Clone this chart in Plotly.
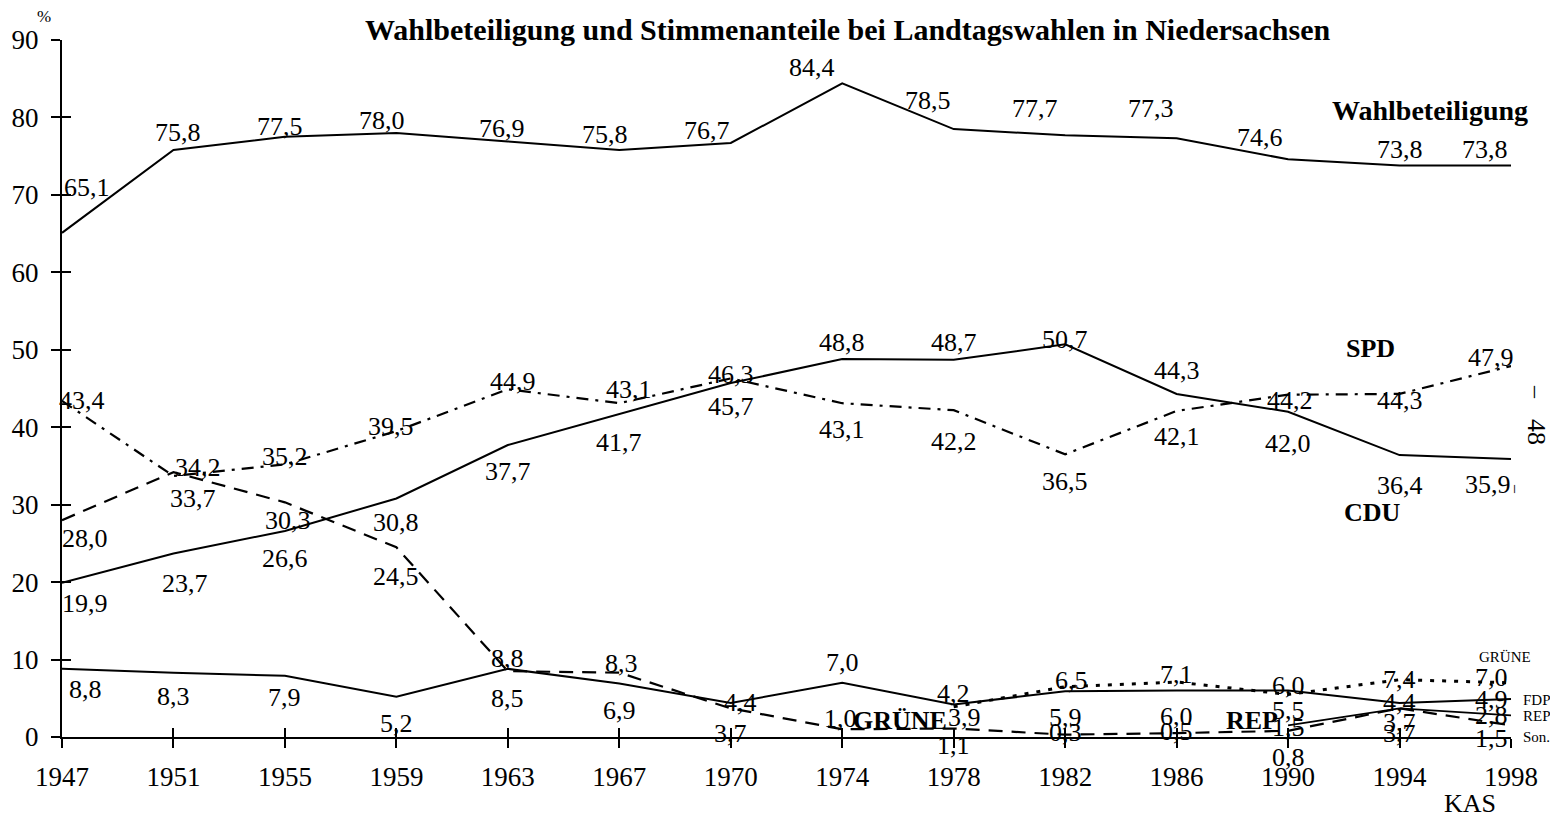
import plotly.graph_objects as go

years = ["1947", "1951", "1955", "1959", "1963", "1967", "1970", "1974",
         "1978", "1982", "1986", "1990", "1994", "1998"]

wahlbeteiligung = [65.1, 75.8, 77.5, 78.0, 76.9, 75.8, 76.7, 84.4, 78.5, 77.7, 77.3, 74.6, 73.8, 73.8]
cdu = [19.9, 23.7, 26.6, 30.8, 37.7, 41.7, 45.7, 48.8, 48.7, 50.7, 44.3, 42.0, 36.4, 35.9]
spd = [43.4, 33.7, 35.2, 39.5, 44.9, 43.1, 46.3, 43.1, 42.2, 36.5, 42.1, 44.2, 44.3, 47.9]
sonstige = [28.0, 34.2, 30.3, 24.5, 8.5, 8.3, 3.7, 1.0, 1.1, 0.3, 0.5, 0.8, 3.7, 1.5]
fdp = [8.8, 8.3, 7.9, 5.2, 8.8, 6.9, 4.4, 7.0, 4.2, 5.9, 6.0, 6.0, 4.4, 4.9]
gruene_years = ["1978", "1982", "1986", "1990", "1994", "1998"]
gruene = [3.9, 6.5, 7.1, 5.5, 7.4, 7.0]
rep_years = ["1990", "1994", "1998"]
rep = [1.5, 3.7, 2.8]

# label offsets in pixels (dx, dy) relative to the data point; dy positive = down
off_wb = [(25, -45), (5, -17), (-5, -10), (-14, -12), (-6, -13), (-14, -15), (-24, -13),
          (-30, -16), (-26, -29), (-30, -27), (-26, -30), (-28, -22), (0, -16), (-26, -16)]
off_cdu = [(23, 21), (12, 30), (0, 27), (0, 24), (0, 26), (0, 28), (0, 23),
           (0, -17), (0, -17), (0, -5), (0, -23), (0, 32), (0, 30), (-23, 26)]
off_spd = [(20, 0), (20, 22), (0, -8), (-5, -5), (5, -8), (10, -14), (0, -4),
           (0, 26), (0, 31), (0, 27), (0, 26), (2, 6), (0, 7), (-20, -9)]
off_son = [(23, 18), (25, -5), (3, 18), (0, 29), (0, 27), (2, -9), (0, 25),
           (-2, -11), (0, 17), (0, -2), (0, -2), (0, 27), (0, 25), (-20, 13)]
off_fdp = [(23, 21), (0, 24), (0, 22), (0, 27), (0, -10), (0, 27), (10, 0),
           (0, -20), (0, -11), (0, 26), (0, 26), (0, -5), (0, 0), (-20, 0)]
off_gr = [(11, 11), (6, -6), (0, -8), (0, 16), (0, 0), (-20, -5)]
off_rep = [(0, 2), (0, 14), (-20, 0)]

FONT = "Liberation Serif"
BLACK = "#000000"
LABEL_SIZE = 26
TICK_SIZE = 27
BOLD_SIZE = 26

# page geometry of the reference plot area (page has an 8px body margin)
PX0, PX1, PY0, PY1 = 62, 1511, 40, 737

fig = go.Figure()

def line(xs, ys, dash, width):
    fig.add_trace(go.Scatter(x=xs, y=ys, mode="lines",
                             line=dict(color=BLACK, width=width, dash=dash),
                             hoverinfo="skip", showlegend=False))

line(years, wahlbeteiligung, "solid", 2)
line(years, cdu, "solid", 2)
line(years, spd, "12px,7px,3px,7px", 2.2)
line(years, sonstige, "14px,9px", 2.2)
line(years, fdp, "solid", 2)
line(gruene_years, gruene, "4px,8px", 3)
line(rep_years, rep, "solid", 1.8)

# invisible trace for the overlay axes (inner half of the crossing ticks)
fig.add_trace(go.Scatter(x=years, y=wahlbeteiligung, xaxis="x2", yaxis="y2",
                         mode="lines", line=dict(width=0), opacity=0,
                         hoverinfo="skip", showlegend=False))

annotations = []

def labels(xs, ys, offs):
    for x, y, (dx, dy) in zip(xs, ys, offs):
        annotations.append(dict(x=years.index(x), y=y, xref="x", yref="y", showarrow=False,
                                xanchor="center", yanchor="middle",
                                text=f"{y:.1f}".replace(".", ","),
                                xshift=dx, yshift=-dy,
                                font=dict(family=FONT, size=LABEL_SIZE, color=BLACK)))

labels(years, wahlbeteiligung, off_wb)
labels(years, cdu, off_cdu)
labels(years, spd, off_spd)
labels(years, sonstige, off_son)
labels(years, fdp, off_fdp)
labels(gruene_years, gruene, off_gr)
labels(rep_years, rep, off_rep)

def ptext(X, Y, s, size, bold=False, angle=0):
    """text placed at page pixel position (X, Y) via paper coordinates"""
    annotations.append(dict(x=(X - PX0) / (PX1 - PX0), y=(PY1 - Y) / (PY1 - PY0),
                            xref="paper", yref="paper", showarrow=False,
                            xanchor="center", yanchor="middle", textangle=angle,
                            text=f"<b>{s}</b>" if bold else s,
                            font=dict(family=FONT, size=size, color=BLACK)))

ptext(848, 30, "Wahlbeteiligung und Stimmenanteile bei Landtagswahlen in Niedersachsen", 30, True)
ptext(44, 16, "%", 17)
ptext(1470, 803, "KAS", 26)
ptext(1430, 110, "Wahlbeteiligung", 28, True)
ptext(1370, 348, "SPD", BOLD_SIZE, True)
ptext(1372, 512, "CDU", BOLD_SIZE, True)
ptext(900, 720, "GRÜNE", BOLD_SIZE, True)
ptext(1252, 720, "REP", BOLD_SIZE, True)
ptext(1505, 657, "GRÜNE", 15)
ptext(1537, 700, "FDP", 15)
ptext(1537, 716, "REP", 15)
ptext(1536, 737, "Son.", 15)
ptext(1537, 392, "–", 24, angle=90)
ptext(1537, 432, "48", 26, angle=90)
ptext(1517, 489, "–", 16, angle=90)

fig.update_layout(
    width=1550, height=812,
    margin=dict(l=PX0 - 8, r=1558 - PX1, t=PY0 - 8, b=820 - PY1, autoexpand=False),
    paper_bgcolor="white", plot_bgcolor="white",
    font=dict(family=FONT, size=24, color=BLACK),
    xaxis=dict(type="category", categoryarray=years, categoryorder="array",
               range=[0, 13], showgrid=False, zeroline=False, automargin=False,
               showline=True, linecolor=BLACK, linewidth=2,
               ticks="outside", ticklen=9, tickwidth=2, tickcolor=BLACK,
               tickfont=dict(family=FONT, size=TICK_SIZE, color=BLACK),
               ticklabelstandoff=6),
    xaxis2=dict(type="category", categoryarray=years, categoryorder="array",
                range=[0, 13], overlaying="x", side="bottom", anchor="y",
                showgrid=False, zeroline=False, showline=False, automargin=False,
                ticks="inside", ticklen=9, tickwidth=2, tickcolor=BLACK,
                showticklabels=False),
    yaxis=dict(range=[0, 90], dtick=10, showgrid=False, zeroline=False, automargin=False,
               showline=True, linecolor=BLACK, linewidth=2,
               ticks="outside", ticklen=9, tickwidth=2, tickcolor=BLACK,
               tickfont=dict(family=FONT, size=TICK_SIZE, color=BLACK),
               ticklabelstandoff=7),
    yaxis2=dict(range=[0, 90], dtick=10, overlaying="y", side="left", anchor="x",
                showgrid=False, zeroline=False, showline=False, automargin=False,
                ticks="inside", ticklen=9, tickwidth=2, tickcolor=BLACK,
                showticklabels=False),
    annotations=annotations,
)

fig.write_html("out.html")
